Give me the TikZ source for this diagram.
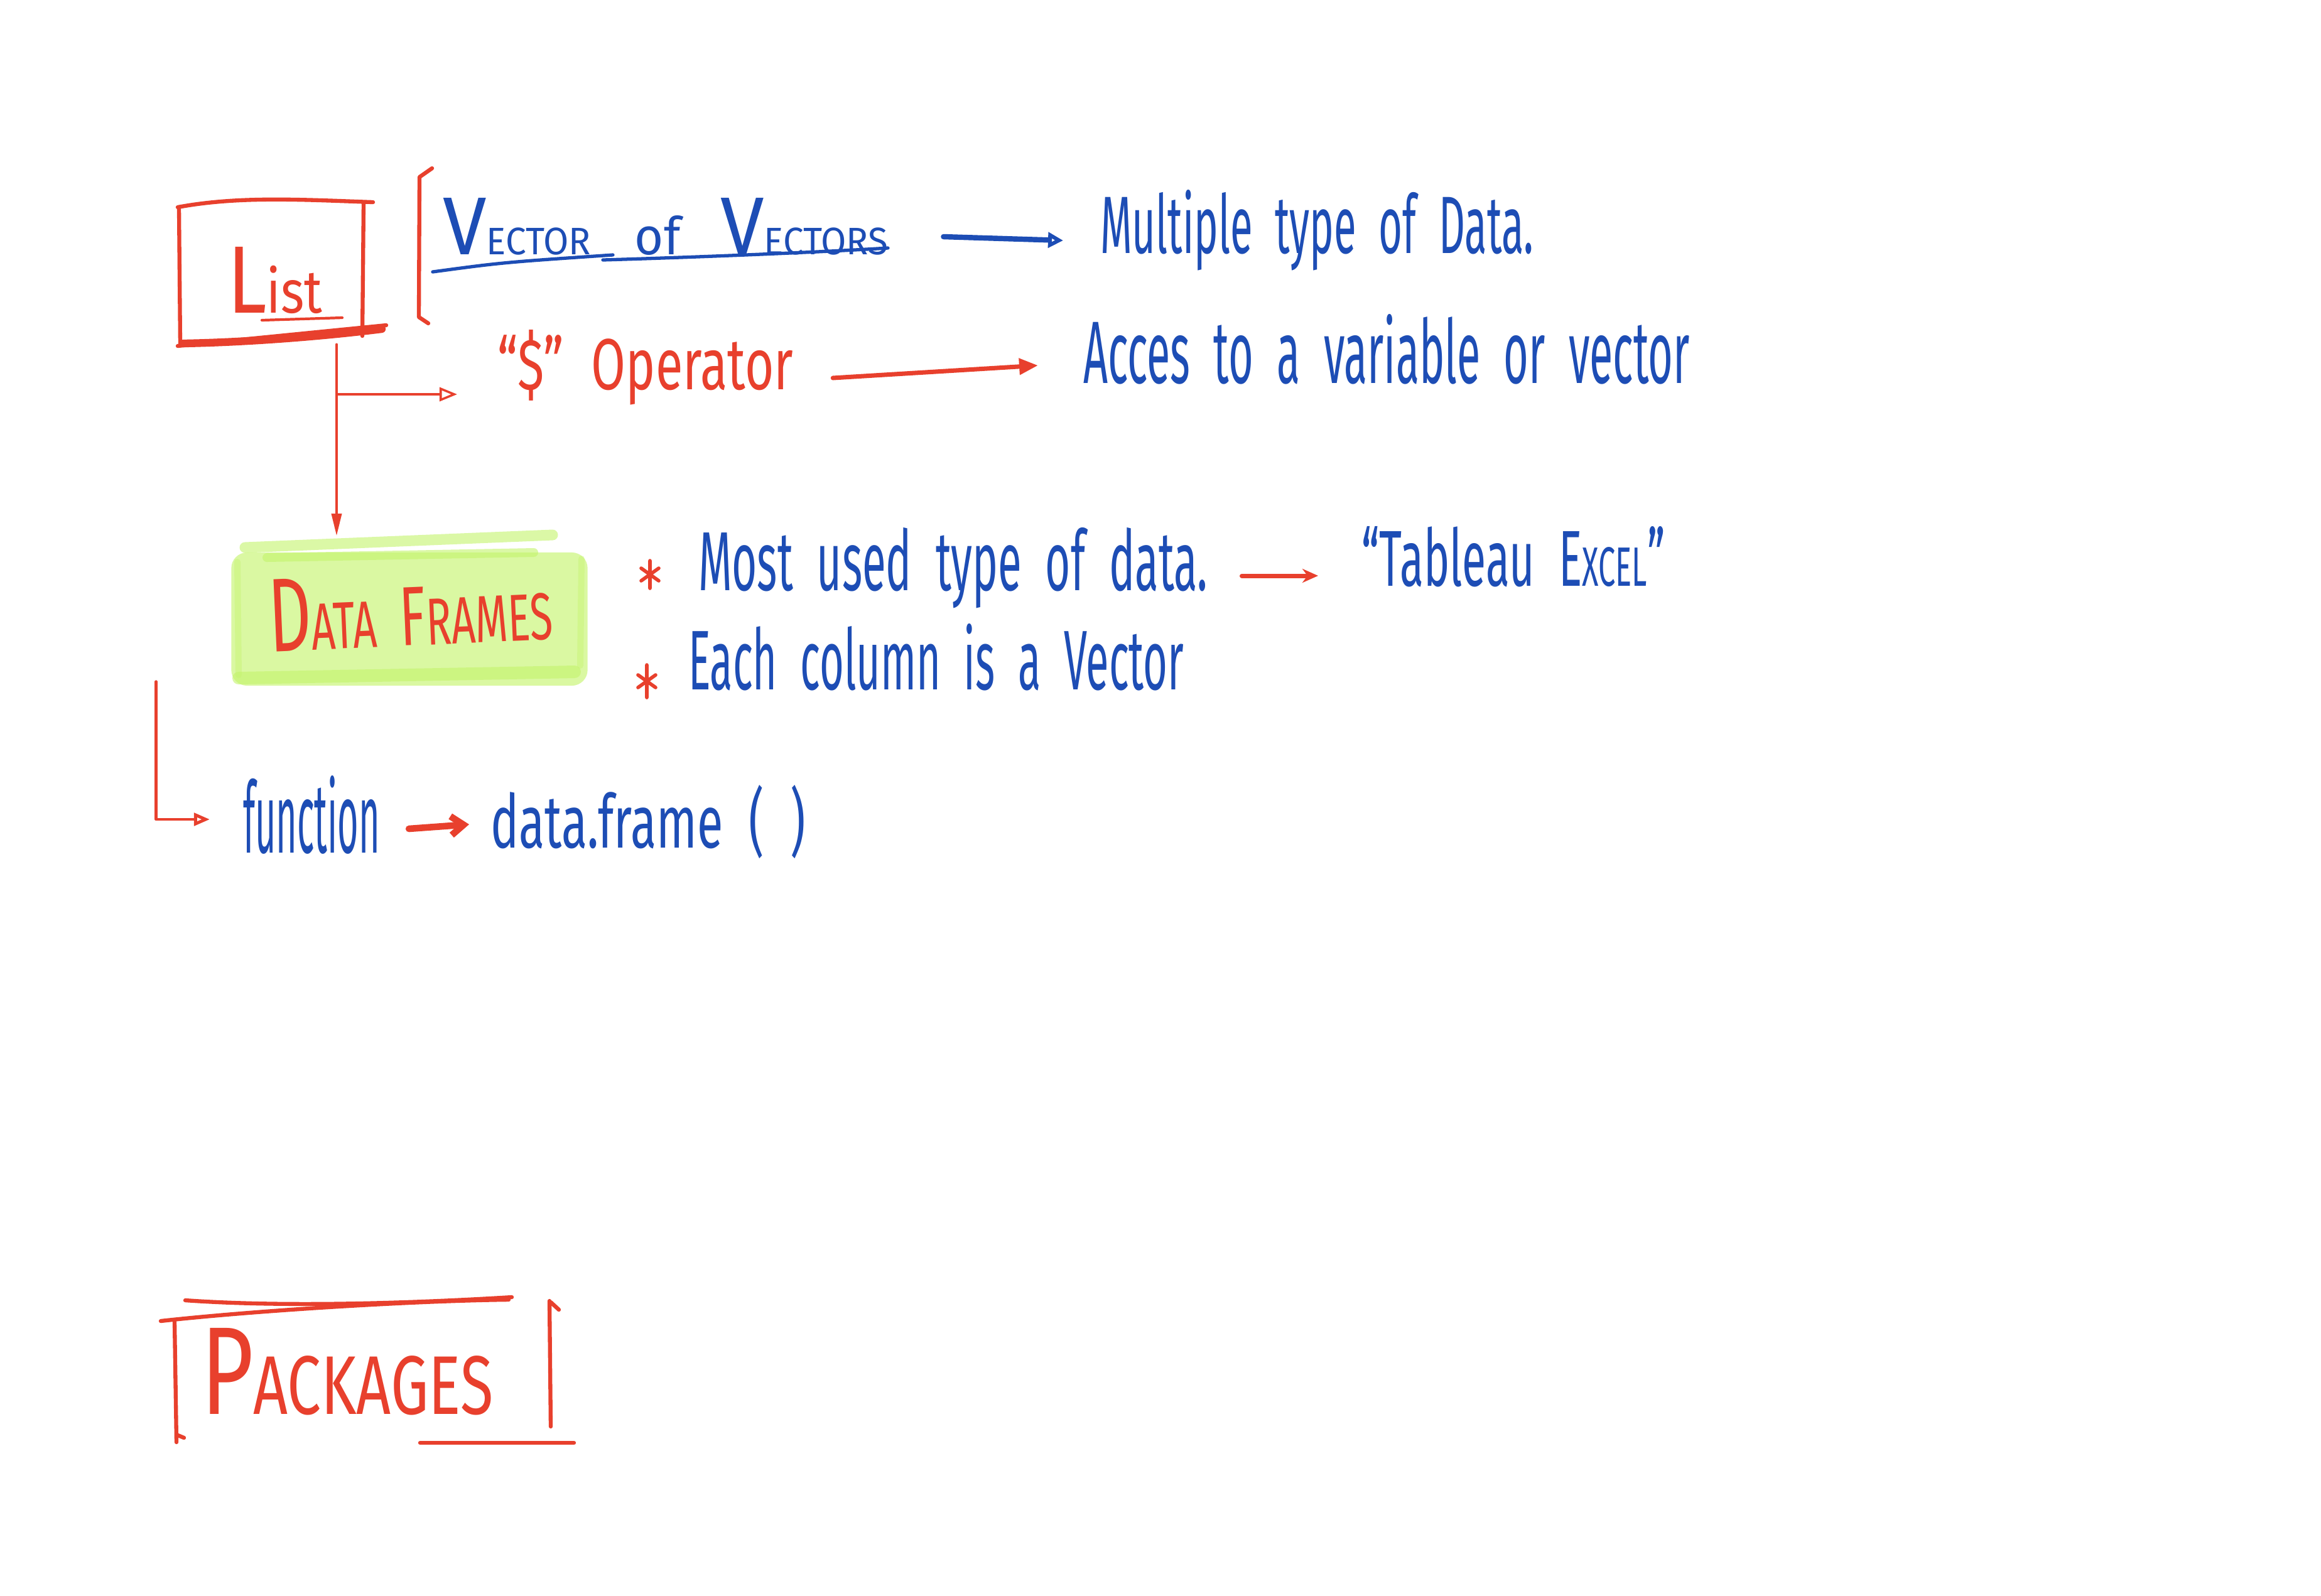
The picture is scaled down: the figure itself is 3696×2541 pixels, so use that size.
\documentclass[tikz,border=0pt]{standalone}
\usepackage{fontspec}
\setmainfont{Fira Sans}
\usetikzlibrary{arrows.meta,calc}
\definecolor{ink}{HTML}{1D4DB5}
\definecolor{pen}{HTML}{E8402D}
\definecolor{hl}{HTML}{DAF8A2}
\definecolor{hlb}{HTML}{C4F46C}
\newcommand\hw[3]{\resizebox{#1cm}{#2cm}{#3}}
\newcommand\fs[1]{\fontsize{#1}{#1}\selectfont}
\newcommand\gap{\hspace{0.55em}}
\begin{document}
\begin{tikzpicture}[x=0.01cm, y=-0.01cm,
  txt/.style={inner sep=0pt, outer sep=0pt, anchor=base west},
  bt/.style={txt, text=ink},
  rt/.style={txt, text=pen},
  rl/.style={draw=pen, line width=1.8pt, line cap=round, line join=round},
  bl/.style={draw=ink, line width=1.8pt, line cap=round, line join=round},
  band/.style={draw=hlb, line cap=round, opacity=0.6}]
\fill[white] (0,0) rectangle (3696,2541);
\useasboundingbox (0,0) rectangle (3696,2541);

% ---------- List box ----------
\node[inner sep=0pt, minimum width=3.05cm, minimum height=2.25cm] (listbox) at (437,435) {};
\draw[rl] (283,330) .. controls (380,312) and (480,318) .. (594,322);
\draw[rl] (285,330) -- (287,548);
\draw[rl] (579,324) -- (577,535);
\draw[rl, line width=3.5pt] (292,547) .. controls (400,545) and (520,535) .. (608,524);
\draw[rl] (283,551) -- (615,518);
\draw[rl, line width=1.2pt] (417,510) -- (545,506);
\node[rt] (listtxt) at (362,498) {\hw{1.51}{1.05}{\fs{30}L\fs{19}ist}};
% bracket
\draw[rl] (688,268) -- (668,282) -- (667,505) -- (682,515);

% ---------- top texts ----------
\node[bt] (vv) at (705,405) {\hw{7.09}{0.90}{\fs{30}V\fs{14}ECTOR\hspace{1.2em}\fs{19}of\hspace{0.8em}\fs{30}V\fs{14}ECTORS}};
\draw[bl, line width=1.5pt] (689,433) .. controls (800,418) .. (976,406);
\draw[bl, line width=1.5pt] (960,414) .. controls (1100,410) and (1300,402) .. (1414,395);
\node[bt] (mult) at (1752,403) {\hw{6.90}{1.01}{\fs{20}Multiple\gap type\gap of\gap Data.}};
\draw[bl, line width=2.4pt, -{Triangle[open, length=0.24cm, width=0.24cm]}] ($(vv.base east)+(88,-28)$) -- ($(mult.base west)+(-59,-20)$);

\node[rt] (dollar) at (792,620) {\hw{4.71}{0.95}{\fs{20}“\$”\gap Operator}};
\node[bt] (acces) at (1725,610) {\hw{9.65}{1.10}{\fs{20}Acces\gap to\gap a\gap variable\gap or\gap vector}};
\draw[rl, line width=2pt, -{Triangle[length=0.3cm, width=0.25cm]}] ($(dollar.base east)+(63,-18)$) -- ($(acces.base west)+(-72,-28)$);

% ---------- Data frames ----------
\node[fill=hl, rounded corners=0.25cm, minimum width=5.67cm, minimum height=2.12cm, inner sep=0pt] (dfbox) at (652,986) {};
\draw[band, line width=0.17cm] (390,872) -- (880,852);
\draw[band, line width=0.14cm] (425,888) -- (850,880);
\draw[band, line width=0.2cm] (380,1080) -- (915,1070);
\draw[band, line width=0.1cm, opacity=0.4] (378,895) -- (380,1075);
\draw[band, line width=0.1cm, opacity=0.4] (926,890) -- (924,1060);
\node[rt, rotate=2.5] (dftxt) at (430,1038) {\hw{4.52}{1.15}{\fs{30}D\fs{19}ATA\gap\fs{24}F\fs{19}RAMES}};

% connectors from List
\coordinate (split) at (536,628);
\draw[rl, line width=1pt, -{Triangle[length=0.35cm, width=0.16cm]}, shorten >=0.26cm] (listbox.south -| split) -- (split) -- (split |- dfbox.north);
\draw[rl, line width=1pt, -{Triangle[open, length=0.28cm, width=0.22cm]}] (split) -- ($(dollar.base west)+(-64,8)$);

% bullets
\draw[rl, line width=1.6pt, shift={(1035,915)}] (0,-22) -- (0,22) (-14,-10) -- (14,10) (-14,10) -- (14,-10);
\draw[rl, line width=1.6pt, shift={(1030,1085)}] (0,-26) -- (0,26) (-14,-10) -- (14,10) (-14,10) -- (14,-10);
\node[bt] (most) at (1112,940) {\hw{8.11}{1.00}{\fs{20}Most\gap used\gap type\gap of\gap data.}};
\node[bt] (tab) at (2168,933) {\hw{4.83}{0.95}{\fs{20}“Tableau\gap E\fs{14}XCEL\fs{20}”}};
\draw[rl, line width=2pt, -{Stealth[length=0.25cm, width=0.22cm]}] ($(most.base east)+(54,-23)$) -- ($(tab.base west)+(-69,-16)$);
\node[bt] (each) at (1096,1098) {\hw{7.89}{1.05}{\fs{20}Each\gap column\gap is\gap a\gap Vector}};

% ---------- function ----------
\node[bt] (func) at (387,1358) {\hw{2.18}{1.23}{\fs{20}function}};
\node[bt] (dataf) at (781,1350) {\hw{5.02}{1.00}{\fs{20}data.frame\gap(\gap)}};
\draw[rl, line width=3pt, -{Straight Barb[length=0.2cm, width=0.3cm]}] ($(func.base east)+(46,-38)$) -- ($(dataf.base west)+(-34,-37)$);
\draw[rl, line width=1.4pt, -{Triangle[open, length=0.25cm, width=0.2cm]}] ($(dfbox.south west)+(-119,-7)$) |- ($(func.base west)+(-53,-53)$);

% ---------- Packages ----------
\node[rt] (pkg) at (320,2252) {\hw{4.65}{1.37}{\fs{30}P\fs{20}ACKAGES}};
\draw[rl] (295,2071) .. controls (450,2082) and (650,2076) .. (815,2066);
\draw[rl] (256,2104) .. controls (400,2088) and (650,2072) .. (810,2070);
\draw[rl] (278,2105) -- (281,2297) (281,2285) -- (293,2290);
\draw[rl] (875,2072) -- (877,2272) (877,2074) -- (890,2086);
\draw[rl] (669,2298) -- (914,2298);
\end{tikzpicture}
\end{document}
